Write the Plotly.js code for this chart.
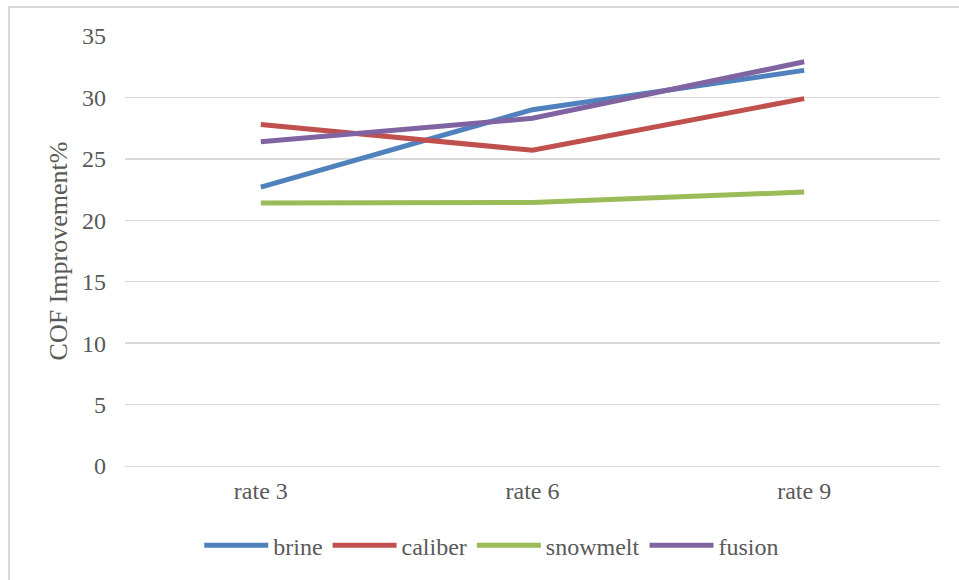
<!DOCTYPE html>
<html>
<head>
<meta charset="utf-8">
<script src="https://cdn.plot.ly/plotly-3.0.1.min.js"></script>
<style>
html,body{margin:0;padding:0;background:#fff;}
#chart{position:absolute;left:0;top:0;width:959px;height:580px;}
#frame{position:absolute;left:8px;top:6px;width:960px;height:580px;border-top:2px solid #d9d9d9;border-left:2px solid #d9d9d9;pointer-events:none;}
</style>
</head>
<body>
<div id="chart"></div>
<div id="frame"></div>
<script>
const categories = ["rate 3", "rate 6", "rate 9"];
const seriesNames = ["brine", "caliber", "snowmelt", "fusion"];
const brine = [22.7, 29.0, 32.2];
const caliber = [27.8, 25.7, 29.9];
const snowmelt = [21.4, 21.45, 22.3];
const fusion = [26.4, 28.3, 32.9];
const yTickVals = [0, 5, 10, 15, 20, 25, 30, 35];

const colors = ["#4F81BD", "#C0504D", "#9BBB59", "#8064A2"];
const values = [brine, caliber, snowmelt, fusion];
const font = "Liberation Serif, Times New Roman, serif";

const traces = seriesNames.map((name, i) => ({
  x: categories,
  y: values[i],
  name: name,
  type: "scatter",
  mode: "lines",
  line: {color: colors[i], width: 5}
}));

const layout = {
  width: 959,
  height: 580,
  paper_bgcolor: "#ffffff",
  plot_bgcolor: "#ffffff",
  margin: {l: 125, r: 19, t: 36, b: 114, autoexpand: false},
  font: {family: font, color: "#595959", size: 24},
  showlegend: true,
  legend: {
    orientation: "h",
    x: 0.45, xanchor: "center",
    y: -0.133, yanchor: "top",
    font: {family: font, size: 24, color: "#595959"},
    itemwidth: 64,
    tracegroupgap: 0
  },
  xaxis: {
    type: "category",
    range: [-0.5, 2.5],
    showgrid: false,
    showline: true,
    linecolor: "#d9d9d9",
    linewidth: 1,
    ticks: "",
    tickfont: {family: font, size: 24, color: "#595959"},
    ticklabelstandoff: 3,
    zeroline: false
  },
  yaxis: {
    range: [0, 35],
    tickvals: yTickVals,
    showgrid: true,
    gridcolor: "#d9d9d9",
    gridwidth: 1.5,
    zeroline: false,
    showline: false,
    ticks: "",
    tickfont: {family: font, size: 24, color: "#595959"},
    ticklabelstandoff: 18,
    title: {text: "COF Improvement%", font: {family: font, size: 26, color: "#595959"}, standoff: 6}
  }
};

Plotly.newPlot("chart", traces, layout, {displayModeBar: false, staticPlot: true});
</script>
</body>
</html>
